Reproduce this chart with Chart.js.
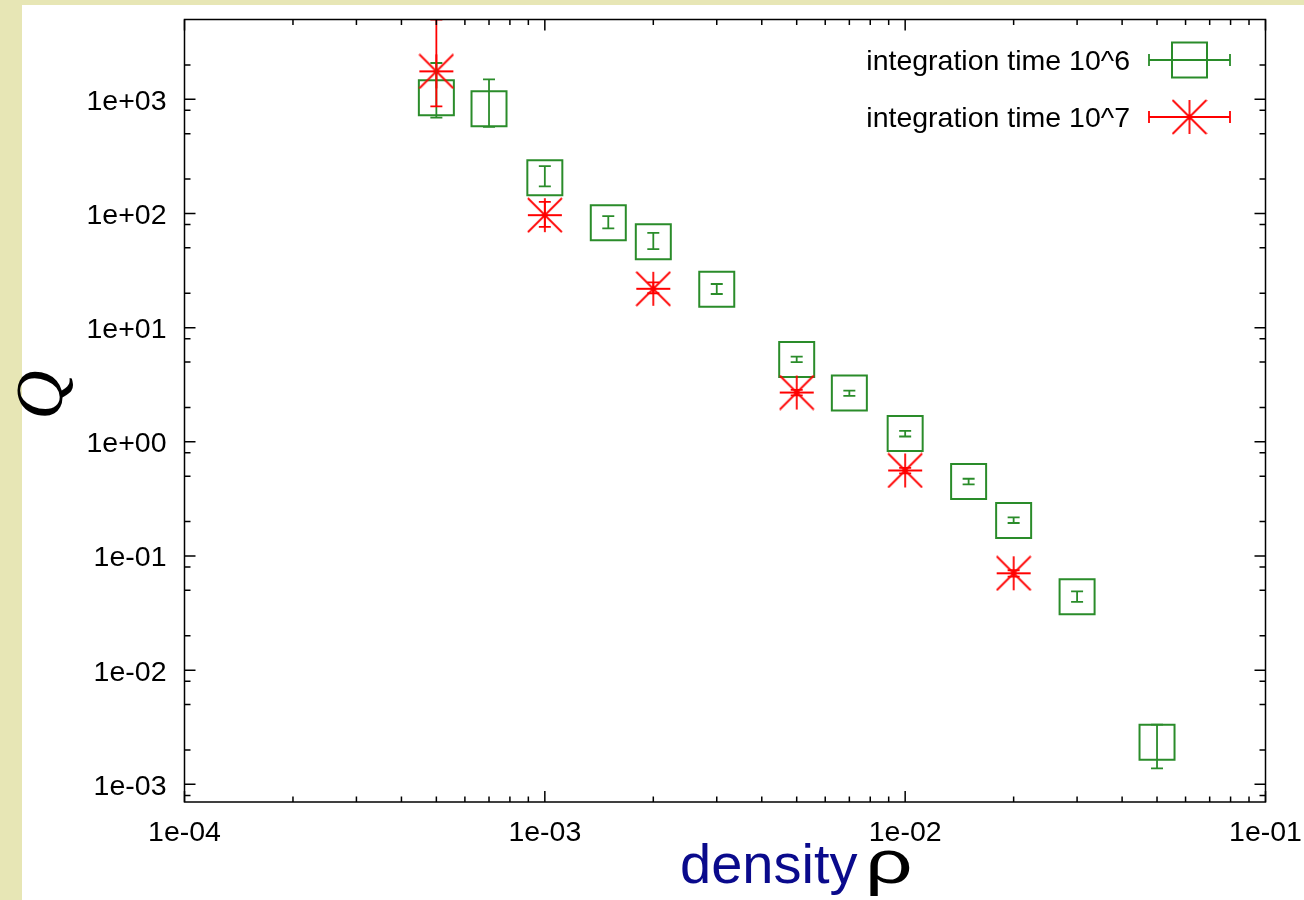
<!DOCTYPE html>
<html>
<head>
<meta charset="utf-8">
<script src="https://cdn.jsdelivr.net/npm/chart.js@4.4.1/dist/chart.umd.min.js"></script>
<style>
  html, body { margin: 0; padding: 0; background: #ffffff; }
  canvas { display: block; }
</style>
</head>
<body>
<canvas id="chart" width="1304" height="900"></canvas>
<script>
// Q versus density, two integration times (log-log, with error bars)
const densityT6 = [5e-4, 7e-4, 1e-3, 1.5e-3, 2e-3, 3e-3, 5e-3, 7e-3, 1e-2, 1.5e-2, 2e-2, 3e-2, 5e-2];
const qT6       = [1030, 826, 206, 83.1, 56.5, 21.7, 5.27, 2.67, 1.18, 0.450, 0.205, 0.0439, 0.00234];
const qT6Low    = [691, 573, 173, 74.0, 48.7, 19.7, 4.98, 2.53, 1.113, 0.423, 0.1945, 0.0396, 0.00138];
const qT6High   = [2080, 1496, 260, 94.8, 67.7, 24.1, 5.57, 2.81, 1.248, 0.4745, 0.2178, 0.0490, 0.00333];

const densityT7 = [5e-4, 1e-3, 2e-3, 5e-3, 1e-2, 2e-2];
const qT7       = [1758, 96.7, 21.9, 2.70, 0.561, 0.0705];
const qT7Low    = [868, 76.4, 20.0, 2.55, 0.530, 0.0660];
const qT7High   = [5000, 126.4, 24.9, 2.85, 0.590, 0.0750];

const seriesLabels = ['integration time 10^6', 'integration time 10^7'];

const xTickValues = [1e-4, 1e-3, 1e-2, 1e-1];
const xTickLabels = ['1e-04', '1e-03', '1e-02', '1e-01'];
const yTickValues = [1e-3, 1e-2, 1e-1, 1e0, 1e1, 1e2, 1e3];
const yTickLabels = ['1e-03', '1e-02', '1e-01', '1e+00', '1e+01', '1e+02', '1e+03'];
const xRange = [1e-4, 1e-1];
const yRange = [7e-4, 5e3];
const xMinorFactors = [2, 3, 4, 5, 6, 7, 8, 9];
const yMinorFactors = [2, 5, 8];

const xTitle = 'density ';
const xTitleSymbol = 'ρ';
const yTitle = 'Q';

const GREEN = '#2a8c2a';
const RED = '#ff0000';
const FONT = '"Liberation Sans", Arial, sans-serif';

// asterisk marker: plus and cross laid over each other
function makeAsterisk(color, size, lw) {
  const c = document.createElement('canvas');
  c.width = size; c.height = size;
  const g = c.getContext('2d');
  g.strokeStyle = color;
  g.lineWidth = lw;
  const m = size / 2, e = 1, f = size - 1;
  g.beginPath();
  g.moveTo(e, m); g.lineTo(f, m);
  g.moveTo(m, e); g.lineTo(m, f);
  g.moveTo(e, e); g.lineTo(f, f);
  g.moveTo(f, e); g.lineTo(e, f);
  g.stroke();
  return c;
}
const asterisk = makeAsterisk(RED, 36, 1.8);

function toPoints(xs, ys) { return xs.map((x, i) => ({ x: x, y: ys[i] })); }

// page background: khaki margin strips around a white panel
const panel = {
  id: 'panel',
  beforeDraw(chart) {
    const { ctx, width, height } = chart;
    ctx.save();
    ctx.fillStyle = '#e7e6b5';
    ctx.fillRect(0, 0, width, height);
    ctx.fillStyle = '#ffffff';
    ctx.fillRect(22, 5, width - 22, height - 5);
    ctx.restore();
  }
};

// vertical error bars with small caps, clipped to the plot area
const errorBars = {
  id: 'errorBars',
  afterDatasetsDraw(chart) {
    const { ctx, chartArea: a, scales: { x, y } } = chart;
    ctx.save();
    ctx.beginPath();
    ctx.rect(a.left, a.top, a.right - a.left, a.bottom - a.top);
    ctx.clip();
    chart.data.datasets.forEach(ds => {
      ctx.strokeStyle = ds.borderColor;
      ctx.lineWidth = 1.8;
      ds.data.forEach((p, i) => {
        const px = x.getPixelForValue(p.x);
        const y0 = y.getPixelForValue(ds.errLow[i]);
        const y1 = y.getPixelForValue(ds.errHigh[i]);
        ctx.beginPath();
        ctx.moveTo(px, y0); ctx.lineTo(px, y1);
        ctx.moveTo(px - 6, y0); ctx.lineTo(px + 6, y0);
        ctx.moveTo(px - 6, y1); ctx.lineTo(px + 6, y1);
        ctx.stroke();
      });
    });
    ctx.restore();
  }
};

// frame with inward tick marks on all four sides, plus key and titles
const frame = {
  id: 'frame',
  afterDraw(chart) {
    const { ctx, chartArea: a, scales: { x, y } } = chart;
    ctx.save();
    ctx.strokeStyle = '#000';
    ctx.lineWidth = 1.5;
    ctx.strokeRect(a.left, a.top, a.right - a.left, a.bottom - a.top);

    const xTicks = [];
    xTickValues.forEach(v => xTicks.push([v, 11]));
    for (let d = Math.floor(Math.log10(xRange[0])); d <= Math.ceil(Math.log10(xRange[1])); d++) {
      xMinorFactors.forEach(k => {
        const v = k * Math.pow(10, d);
        if (v > xRange[0] && v < xRange[1]) xTicks.push([v, 5.5]);
      });
    }
    const yTicks = [];
    yTickValues.forEach(v => yTicks.push([v, 11]));
    for (let d = Math.floor(Math.log10(yRange[0])); d <= Math.ceil(Math.log10(yRange[1])); d++) {
      yMinorFactors.forEach(k => {
        const v = k * Math.pow(10, d);
        if (v > yRange[0] && v < yRange[1]) yTicks.push([v, 6]);
      });
    }
    ctx.beginPath();
    xTicks.forEach(([v, len]) => {
      const px = x.getPixelForValue(v);
      ctx.moveTo(px, a.bottom); ctx.lineTo(px, a.bottom - len);
      ctx.moveTo(px, a.top); ctx.lineTo(px, a.top + len);
    });
    yTicks.forEach(([v, len]) => {
      const py = y.getPixelForValue(v);
      ctx.moveTo(a.left, py); ctx.lineTo(a.left + len, py);
      ctx.moveTo(a.right, py); ctx.lineTo(a.right - len, py);
    });
    ctx.stroke();

    // key, top right inside the frame
    const rows = [70, 127];
    chart.data.datasets.forEach((ds, i) => {
      const base = rows[i];
      const cy = base - 10;
      ctx.fillStyle = '#000';
      ctx.font = '28.5px ' + FONT;
      ctx.textAlign = 'right';
      ctx.textBaseline = 'alphabetic';
      ctx.fillText(ds.label, 1130, base);
      ctx.strokeStyle = ds.borderColor;
      ctx.lineWidth = 1.8;
      ctx.beginPath();
      ctx.moveTo(1149, cy); ctx.lineTo(1230, cy);
      ctx.moveTo(1149, cy - 6); ctx.lineTo(1149, cy + 6);
      ctx.moveTo(1230, cy - 6); ctx.lineTo(1230, cy + 6);
      ctx.stroke();
      if (ds.pointStyle === 'rect') {
        ctx.lineWidth = 2;
        ctx.strokeRect(1172, cy - 17.5, 35, 35);
      } else {
        ctx.drawImage(ds.pointStyle, 1189.5 - 18, cy - 18);
      }
    });

    // x title: word in navy, symbol in black (symbol drawn a little wider)
    ctx.textAlign = 'left';
    ctx.textBaseline = 'alphabetic';
    ctx.font = '56px ' + FONT;
    ctx.fillStyle = '#0a0a8c';
    ctx.fillText(xTitle, 680, 883);
    const w = ctx.measureText(xTitle).width;
    ctx.save();
    ctx.translate(680 + w - 8, 883);
    ctx.scale(1.35, 1);
    ctx.font = '62px ' + FONT;
    ctx.fillStyle = '#000';
    ctx.fillText(xTitleSymbol, 0, 0);
    ctx.restore();

    // y title, rotated
    ctx.translate(44, 395);
    ctx.rotate(-Math.PI / 2);
    ctx.font = 'italic 68px "Liberation Serif", "DejaVu Serif", serif';
    ctx.textAlign = 'center';
    ctx.textBaseline = 'middle';
    ctx.fillStyle = '#000';
    ctx.fillText(yTitle, 0, 0);
    ctx.restore();
  }
};

new Chart(document.getElementById('chart'), {
  type: 'scatter',
  data: {
    datasets: [
      {
        label: seriesLabels[0],
        data: toPoints(densityT6, qT6),
        errLow: qT6Low,
        errHigh: qT6High,
        borderColor: GREEN,
        backgroundColor: 'rgba(0,0,0,0)',
        pointStyle: 'rect',
        pointRadius: 24.75,
        pointBorderWidth: 2,
        order: 1
      },
      {
        label: seriesLabels[1],
        data: toPoints(densityT7, qT7),
        errLow: qT7Low,
        errHigh: qT7High,
        borderColor: RED,
        backgroundColor: RED,
        pointStyle: asterisk,
        pointRadius: 18,
        order: 0
      }
    ]
  },
  options: {
    responsive: false,
    animation: false,
    devicePixelRatio: 1,
    layout: { autoPadding: false, padding: { top: 19.5, right: 38.5, bottom: 0, left: 0 } },
    plugins: { legend: { display: false }, tooltip: { enabled: false } },
    scales: {
      x: {
        type: 'logarithmic',
        min: xRange[0],
        max: xRange[1],
        grid: { display: false, drawTicks: false },
        border: { display: false },
        afterBuildTicks: s => { s.ticks = xTickValues.map(v => ({ value: v, major: true })); },
        afterFit: s => { s.height = 98; s.paddingLeft = 0; s.paddingRight = 0; },
        ticks: {
          autoSkip: false,
          maxRotation: 0,
          padding: 14,
          color: '#000',
          font: { family: FONT, size: 28.5 },
          callback: (v, i) => xTickLabels[i]
        }
      },
      y: {
        type: 'logarithmic',
        min: yRange[0],
        max: yRange[1],
        grid: { display: false, drawTicks: false },
        border: { display: false },
        afterBuildTicks: s => { s.ticks = yTickValues.map(v => ({ value: v, major: true })); },
        afterFit: s => { s.width = 184.5; s.paddingTop = 0; s.paddingBottom = 0; },
        ticks: {
          autoSkip: false,
          padding: 18,
          labelOffset: 2.5,
          color: '#000',
          font: { family: FONT, size: 28.5 },
          callback: (v, i) => yTickLabels[i]
        }
      }
    }
  },
  plugins: [panel, errorBars, frame]
});
</script>
</body>
</html>
